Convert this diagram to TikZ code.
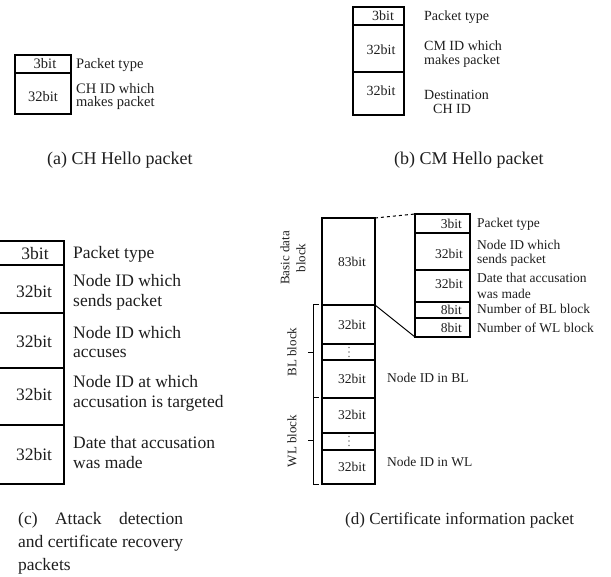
\documentclass[tikz,border=0pt]{standalone}
\usepackage{fontspec}
\setmainfont{Liberation Serif}
\newcommand\szA{\fontsize{14.5}{13}\selectfont}
\newcommand\szB{\fontsize{14}{14}\selectfont}
\newcommand\szC{\fontsize{17.5}{19.5}\selectfont}
\newcommand\szD{\fontsize{13.5}{13.5}\selectfont}
\newcommand\szR{\fontsize{13}{16}\selectfont}
\newcommand\szCap{\fontsize{18}{23}\selectfont}
\definecolor{ink}{HTML}{1E1E1E}
\begin{document}
\begin{tikzpicture}[x=1pt,y=-1pt,
  every node/.style={text=ink},
  lbl/.style={anchor=west,inner sep=0pt,align=left},
  num/.style={inner sep=0pt},
  rnum/.style={inner sep=0pt,anchor=east},
  thickbox/.style={line width=1.8pt},
  midbox/.style={line width=1.5pt},
  thinbox/.style={line width=1.3pt},
  brk/.style={line width=1pt},
  dotrow/.style={fill=gray},
]
\useasboundingbox (0,0) rectangle (611,577);
\clip (0,0) rectangle (611,577);

% ---------------- (a) CH Hello packet
\draw[thickbox] (15,55) rectangle (71,114);
\draw[thickbox] (15,73) -- (71,73);
\node[num,font=\szA] (a3) at (45,64) {3bit};
\node[num,font=\szA] (a32) at (43,97) {32bit};
\node[lbl,font=\szA] (al1) at (76,65) {Packet type};
\node[lbl,font=\szA] (al2) at (76,97) {CH ID which\\makes packet};
\node[lbl,font=\szCap] (capa) at (47,160) {(a) CH Hello packet};

% ---------------- (b) CM Hello packet
\draw[midbox] (353,7) rectangle (404,115);
\draw[midbox] (353,25) -- (404,25);
\draw[midbox] (353,72) -- (404,72);
\node[num,font=\szB] (b3) at (383,16) {3bit};
\node[num,font=\szB] (b32a) at (381,50) {32bit};
\node[num,font=\szB] (b32b) at (381,91) {32bit};
\node[lbl,font=\szB] (bl1) at (424,17) {Packet type};
\node[lbl,font=\szB] (bl2) at (424,54) {CM ID which\\makes packet};
\node[lbl,font=\szB] (bl3) at (424,101.5) {Destination\\\hspace*{9pt}CH ID};
\node[lbl,font=\szCap] (capb) at (394,160) {(b) CM Hello packet};

% ---------------- (c) Attack detection packets
\draw[line width=2pt] (-5,241) rectangle (64,484);
\foreach \yy in {265,313,368,425} \draw[line width=2pt] (-5,\yy) -- (64,\yy);
\node[num,font=\szC] (c3) at (35,254) {3bit};
\node[num,font=\szC] (c32a) at (34,292) {32bit};
\node[num,font=\szC] (c32b) at (34,342) {32bit};
\node[num,font=\szC] (c32c) at (34,395) {32bit};
\node[num,font=\szC] (c32d) at (34,455) {32bit};
\node[lbl,font=\szC] (cl1) at (73,254) {Packet type};
\node[lbl,font=\szC] (cl2) at (73,292.5) {Node ID which\\sends packet};
\node[lbl,font=\szC] (cl3) at (73,342) {Node ID which\\accuses};
\node[lbl,font=\szC] (cl4) at (73,393.5) {Node ID at which\\accusation is targeted};
\node[lbl,font=\szC] (cl5) at (73,452.5) {Date that accusation\\was made};
\node[lbl,font=\fontsize{17.5}{23}\selectfont] (capc) at (18,543)
  {\makebox[165pt][s]{(c) Attack detection}\\\makebox[165pt][s]{and certificate recovery}\\packets};

% ---------------- (d) Certificate information packet
\draw[thinbox] (322,218) rectangle (375,484);
\foreach \yy in {305,344,360,433,450} \draw[thinbox] (322,\yy) -- (375,\yy);
\draw[line width=1.6pt] (322,398) -- (375,398);
\node[num,font=\szD] (d83) at (352,262) {83bit};
\node[num,font=\szD] (d32a) at (352,325) {32bit};
\node[num,font=\szD] (d32b) at (352,379) {32bit};
\node[num,font=\szD] (d32c) at (352,415) {32bit};
\node[num,font=\szD] (d32d) at (352,467) {32bit};
\foreach \yy in {347.5,352,356.5,436.5,441,445.5} \fill[dotrow] (349,\yy) circle (0.8);
\node[lbl,font=\szD] (dbl) at (387,378) {Node ID in BL};
\node[lbl,font=\szD] (dwl) at (387,462) {Node ID in WL};
\node[num,font=\szR,rotate=90,align=center] (dbasic) at (293,258) {Basic data\\block};
\node[num,font=\szR,rotate=90] (dblb) at (292,352) {BL block};
\node[num,font=\szR,rotate=90] (dwlb) at (292,441) {WL block};
% brackets
\draw[brk] (319,305) -- (313,305) -- (313,398) -- (319,398);
\draw[brk] (313,353) -- (308,353);
\draw[brk] (313,398) -- (313,484) -- (319,484);
\draw[brk] (313,441) -- (308,441);

% detail box
\draw[thinbox] (415,214) rectangle (470,337);
\foreach \yy in {233,270,302,318} \draw[thinbox] (415,\yy) -- (470,\yy);
\node[rnum,font=\szD] (e3) at (462,224) {3bit};
\node[rnum,font=\szD] (e32a) at (463,254) {32bit};
\node[rnum,font=\szD] (e32b) at (463,284) {32bit};
\node[rnum,font=\szD] (e8a) at (462,310) {8bit};
\node[rnum,font=\szD] (e8b) at (462,327.5) {8bit};
\node[lbl,font=\szD] (el1) at (477,224) {Packet type};
\node[lbl,font=\szD] (el2) at (477,253.5) {Node ID which\\sends packet};
\node[lbl,font=\fontsize{13.5}{16.5}\selectfont] (el3) at (477,286) {Date that accusation\\was made};
\node[lbl,font=\szD] (el4) at (477,309) {Number of BL block};
\node[lbl,font=\szD] (el5) at (477,327.5) {Number of WL block};

% zoom connectors
\coordinate (basicTR) at (375,218);
\coordinate (basicBR) at (375,305);
\coordinate (detTL) at (415,214);
\coordinate (detBL) at (415,337);
\draw[line width=1pt,dashed] (basicTR) -- (detTL);
\draw[line width=1pt] (basicBR) -- (detBL);

\node[lbl,font=\fontsize{17}{20}\selectfont] (capd) at (345,520) {(d) Certificate information packet};
\end{tikzpicture}
\end{document}
